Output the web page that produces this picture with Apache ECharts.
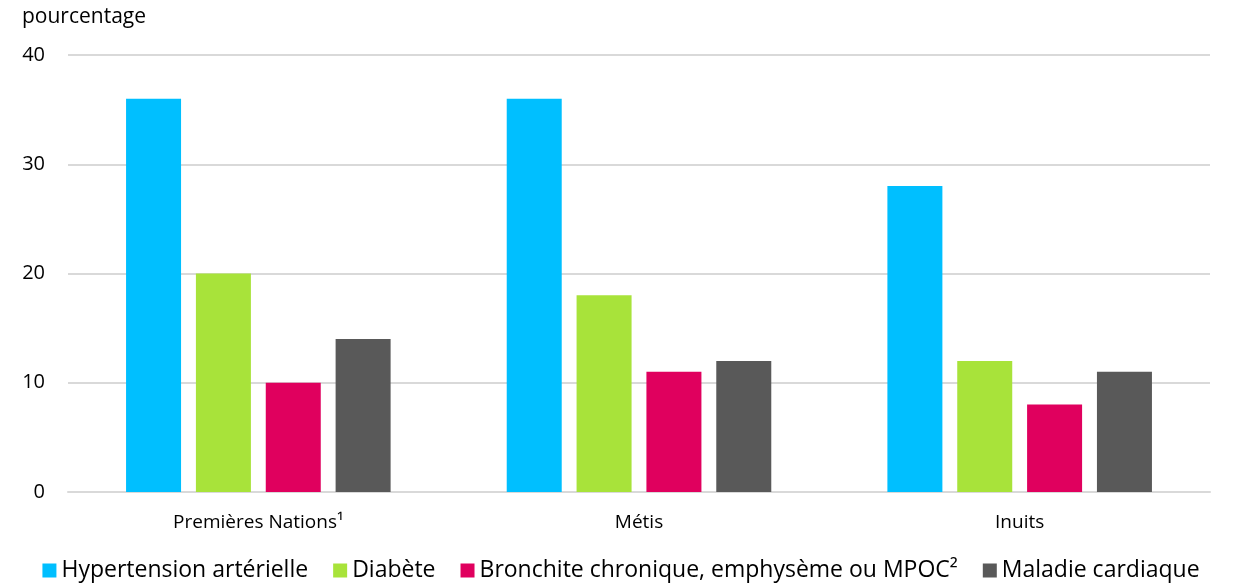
<!DOCTYPE html>
<html>
<head>
<meta charset="utf-8">
<script src="https://cdn.jsdelivr.net/npm/echarts@6/dist/echarts.min.js"></script>
<style>html,body{margin:0;padding:0;background:#fff;}#c{width:1242px;height:583px;}</style>
</head>
<body>
<div id="c"></div>
<script>
const categories = ['Premières Nations¹', 'Métis', 'Inuits'];
const seriesNames = ['Hypertension artérielle', 'Diabète', 'Bronchite chronique, emphysème ou MPOC²', 'Maladie cardiaque'];
const hypertension = [36, 36, 28];
const diabete = [20, 18, 12];
const bronchite = [10, 11, 8];
const cardiaque = [14, 12, 11];
const yTicks = [0, 10, 20, 30, 40];
const colors = ['#00BFFF', '#A8E33A', '#E0005E', '#595959'];
const values = [hypertension, diabete, bronchite, cardiaque];

const font = 'Open Sans, sans-serif';
const chart = echarts.init(document.getElementById('c'));
chart.setOption({
  animation: false,
  title: { text: 'pourcentage', left: 17, top: 2, textStyle: { fontFamily: font, fontSize: 21, fontWeight: 'normal', color: '#000' } },
  grid: { left: 68, right: 32, top: 55, bottom: 91 },
  legend: {
    bottom: -4, left: 'center', itemWidth: 14, itemHeight: 14, itemGap: 25,
    icon: 'rect',
    textStyle: { fontFamily: font, fontSize: 23, color: '#000' },
    data: seriesNames
  },
  xAxis: {
    type: 'category', data: categories,
    axisLine: { lineStyle: { color: '#d9d9d9', width: 2 } },
    axisTick: { show: false },
    axisLabel: { fontFamily: font, fontSize: 19, color: '#000', margin: 21 }
  },
  yAxis: {
    type: 'value', min: 0, max: 40, interval: 10,
    axisLine: { show: false }, axisTick: { show: false },
    splitLine: { lineStyle: { color: '#d9d9d9', width: 2 } },
    axisLabel: { fontFamily: font, fontSize: 20, color: '#000', margin: 23, formatter: v => yTicks.includes(v) ? String(v) : '' }
  },
  series: seriesNames.map((n, i) => ({
    name: n, type: 'bar', data: values[i], barWidth: 55, barGap: '27%',
    itemStyle: { color: colors[i] }
  }))
});
</script>
</body>
</html>
